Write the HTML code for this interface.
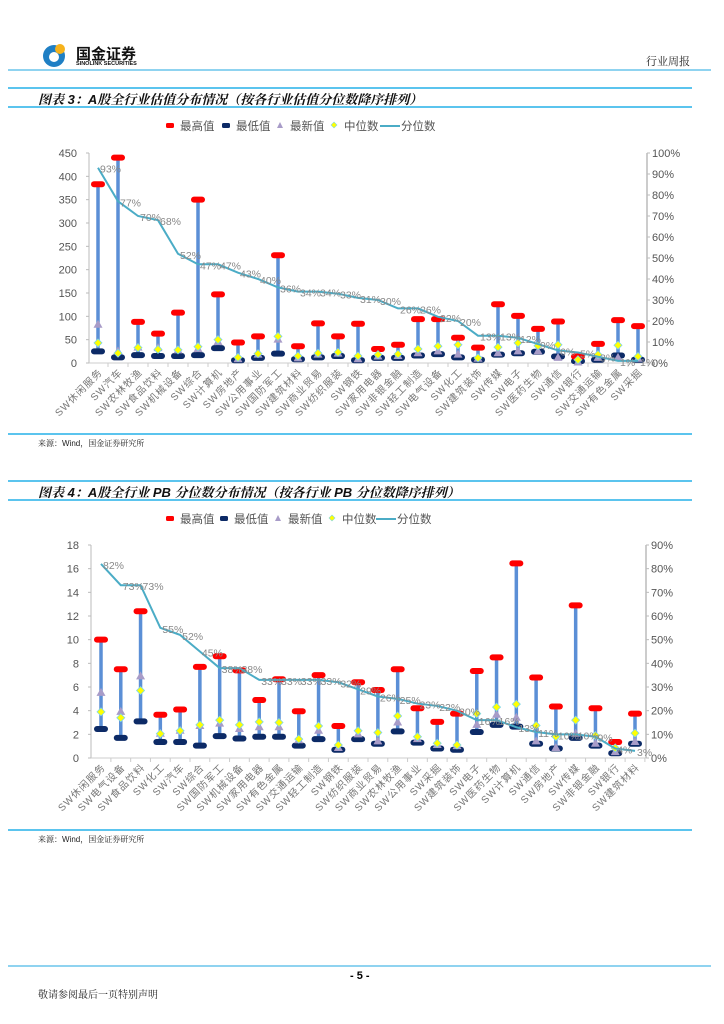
<!DOCTYPE html>
<html><head><meta charset="utf-8">
<style>
body{margin:0;background:#fff;}
#page{position:relative;width:724px;height:1024px;overflow:hidden;font-family:"Liberation Sans","Noto Sans CJK SC",sans-serif;}
.abs{position:absolute;}
.bl{position:absolute;left:8px;height:2px;background:#5bc4ee;}
.ttl{position:absolute;left:38px;font-size:13px;font-weight:bold;font-style:italic;color:#111;font-family:"Liberation Sans","Noto Serif CJK SC",serif;}
.src{position:absolute;left:38px;font-size:8px;color:#222;font-family:"Liberation Sans","Noto Serif CJK SC",serif;}
svg text{font-family:"Liberation Sans","Noto Sans CJK SC",sans-serif;}
</style></head>
<body><div id="page">
<div class="abs" style="left:42px;top:42px;width:26px;height:26px;">
<svg width="26" height="26"><circle cx="12" cy="14" r="11" fill="#1f7fc4"/><circle cx="12" cy="15" r="5" fill="#fff"/><circle cx="18" cy="7" r="5" fill="#f6b21b"/></svg></div>
<div class="abs" style="left:76px;top:43px;font-size:15px;font-weight:bold;color:#111;font-family:'Noto Sans CJK SC',sans-serif;">国金证券</div>
<div class="abs" style="left:76px;top:61px;font-size:5.5px;font-weight:bold;color:#111;">SINOLINK SECURITIES</div>
<div class="abs" style="left:646px;top:53px;font-size:11px;color:#222;font-family:'Noto Serif CJK SC',serif;">行业周报</div>
<div class="bl" style="top:69px;width:703px;background:#8fd3f0;"></div>

<div class="bl" style="top:87px;width:684px;"></div>
<div class="ttl" style="top:89px;">图表 3：A股全行业估值分布情况（按各行业估值分位数降序排列）</div>
<div class="bl" style="top:106px;width:684px;"></div>
<div class="bl" style="top:433px;width:684px;"></div>
<div class="src" style="top:438px;">来源：Wind，国金证券研究所</div>

<div class="bl" style="top:480px;width:684px;"></div>
<div class="ttl" style="top:482px;">图表 4：A股全行业 PB 分位数分布情况（按各行业 PB 分位数降序排列）</div>
<div class="bl" style="top:499px;width:684px;"></div>
<div class="bl" style="top:829px;width:684px;"></div>
<div class="src" style="top:834px;">来源：Wind，国金证券研究所</div>

<div class="bl" style="top:965px;width:703px;background:#8fd3f0;"></div>
<div class="abs" style="left:350px;top:970px;font-size:11px;font-weight:bold;">- 5 -</div>
<div class="abs" style="left:38px;top:986px;font-size:10px;color:#222;font-family:'Noto Serif CJK SC',serif;">敬请参阅最后一页特别声明</div>

<svg id="chart1" class="abs" style="left:0;top:110px;" width="724" height="325"></svg>
<svg id="chart2" class="abs" style="left:0;top:503px;" width="724" height="325"></svg>

<script>
const cats1=["休闲服务","汽车","农林牧渔","食品饮料","机械设备","综合","计算机","房地产","公用事业","国防军工","建筑材料","商业贸易","纺织服装","钢铁","家用电器","非银金融","轻工制造","电气设备","化工","建筑装饰","传媒","电子","医药生物","通信","银行","交通运输","有色金属","采掘"];
const max1=[383,440,88,63,108,350,147,44,57,231,36,85,57,84,30,39,94,94,54,33,126,101,73,89,14,41,92,79];
const min1=[25,12,17,15,15,17,32,6,11,20,8,12,15,6,11,11,16,19,12,7,18,21,24,14,4,7,16,7];
const latest1=[82,25,33,32,27,30,45,8,18,50,10,18,20,8,14,15,21,25,18,9,21,25,25,11,1,11,11,9];
const median1=[43,21,33,29,28,35,50,12,20,57,15,21,23,15,18,19,30,36,39,11,34,43,37,39,7,18,38,14];
const pct1=[93,77,70,68,52,47,47,43,40,36,34,34,33,31,30,26,26,22,20,13,13,12,9,6,5,3,1,1];
const yTicks1=[0,50,100,150,200,250,300,350,400,450];
const rTicks1=[0,10,20,30,40,50,60,70,80,90,100];

const cats2=["休闲服务","电气设备","食品饮料","化工","汽车","综合","国防军工","机械设备","家用电器","有色金属","交通运输","轻工制造","钢铁","纺织服装","商业贸易","农林牧渔","公用事业","采掘","建筑装饰","电子","医药生物","计算机","通信","房地产","传媒","非银金融","银行","建筑材料"];
const max2=[10,7.5,12.4,3.65,4.1,7.7,8.6,7.4,4.9,6.65,3.95,7.0,2.7,6.4,5.75,7.5,4.2,3.05,3.75,7.35,8.5,16.45,6.8,4.35,12.9,4.2,1.35,3.75];
const min2=[2.45,1.7,3.1,1.35,1.35,1.05,1.85,1.65,1.8,1.8,1.05,1.6,0.7,1.6,1.2,2.25,1.3,0.8,0.7,2.2,2.8,2.65,1.2,0.8,1.7,1.05,0.4,1.2];
const latest2=[5.5,3.9,6.9,2.05,2.3,2.7,2.9,2.45,2.6,2.6,1.5,2.3,0.85,2.0,1.4,3.0,1.6,1.1,1.0,2.8,3.65,3.4,1.4,0.85,2.05,1.2,0.5,1.35];
const median2=[3.9,3.4,5.7,2.05,2.3,2.8,3.2,2.8,3.05,3.0,1.6,2.7,1.1,2.3,2.15,3.55,1.8,1.25,1.1,3.75,4.3,4.55,2.75,1.8,3.2,1.9,0.85,2.1];
const pct2=[82,73,73,55,52,45,38,38,33,33,33,33,32,29,26,25,23,22,20,16,16,13,11,10,10,9,4,3];
const yTicks2=[0,2,4,6,8,10,12,14,16,18];
const rTicks2=[0,10,20,30,40,50,60,70,80,90];

const NS="http://www.w3.org/2000/svg";
function mk(p,tag,attrs,txt){const e=document.createElementNS(NS,tag);for(const k in attrs)e.setAttribute(k,attrs[k]);if(txt!==undefined)e.textContent=txt;p.appendChild(e);return e;}

function draw(svg,cfg){
  const {cats,mx,mn,lt,md,pc,yT,rT,yMax,rMax,x0,x1,y0,y1,first,last,legY,legX}=cfg;
  const ys=v=>y0-(v/yMax)*(y0-y1);
  const rs=v=>y0-(v/rMax)*(y0-y1);
  const xs=i=>first+i*(last-first)/(cats.length-1);
  const lg=mk(svg,'g',{});
  
  
  const items=[["最高值","max"],["最低值","min"],["最新值","latest"],["中位数","median"],["分位数","pct"]];
  items.forEach((it,k)=>{
    const lx=legX[k];
    const g=mk(lg,'g',{});
    
    
    if(it[1]==='max')mk(g,'rect',{x:lx-6,y:legY-3,width:8,height:5,rx:1.5,fill:'#f00'});
    if(it[1]==='min')mk(g,'rect',{x:lx-6,y:legY-3,width:8,height:5,rx:1.5,fill:'#0c2a66'});
    if(it[1]==='latest')mk(g,'path',{d:`M${lx-2} ${legY-4}L${lx+1} ${legY+2}L${lx-5} ${legY+2}Z`,fill:'#a89cc8'});
    if(it[1]==='median')mk(g,'path',{d:`M${lx-2} ${legY-4}L${lx+1} ${legY-1}L${lx-2} ${legY+2}L${lx-5} ${legY-1}Z`,fill:'#ffff00',stroke:'#7fd6e6','stroke-width':0.6});
    let tx=lx+8;
    if(it[1]==='pct'){mk(g,'line',{x1:lx-8,y1:legY,x2:lx+12,y2:legY,stroke:'#4bacc6','stroke-width':2});tx=lx+13;}
    mk(g,'text',{x:tx,y:legY+4,'font-size':11.5,fill:'#555'},it[0]);
  });
  const ax=mk(svg,'g',{});
  
  
  mk(ax,'line',{x1:x0,y1:y1,x2:x0,y2:y0,stroke:'#bbb','stroke-width':1});
  yT.forEach(t=>{mk(ax,'line',{x1:x0-3,y1:ys(t),x2:x0,y2:ys(t),stroke:'#bbb'});mk(ax,'text',{x:x0-12,y:ys(t)+4,'font-size':11,fill:'#555','text-anchor':'end'},String(t));});
  const ra=mk(svg,'g',{});
  
  
  mk(ra,'line',{x1:x1,y1:y1,x2:x1,y2:y0,stroke:'#bbb','stroke-width':1.5});
  rT.forEach(t=>{mk(ra,'line',{x1:x1,y1:rs(t),x2:x1+3,y2:rs(t),stroke:'#bbb'});mk(ra,'text',{x:x1+5,y:rs(t)+4,'font-size':11,fill:'#555'},t+'%');});
  const xa=mk(svg,'g',{});
  
  
  mk(xa,'line',{x1:x0,y1:y0,x2:x1,y2:y0,stroke:'#ccc','stroke-width':1});
  const step=(last-first)/(cats.length-1);
  cats.forEach((c,i)=>{
    const bx=xs(i);
    mk(xa,'line',{x1:bx+step/2,y1:y0,x2:bx+step/2,y2:y0+4,stroke:'#ccc'});
    const t=mk(xa,'text',{x:bx+5,y:y0+10,'font-size':10,fill:'#777','text-anchor':'end','letter-spacing':'1',transform:`rotate(-45 ${bx+5} ${y0+10})`},'SW'+c);
    
    
  });
  cats.forEach((c,i)=>{
    const bx=xs(i);
    const g=mk(svg,'g',{});
    
    
    mk(g,'line',{x1:bx,y1:ys(mx[i]),x2:bx,y2:ys(mn[i]),stroke:'#5b8fd6','stroke-width':3.5});
    mk(g,'rect',{x:bx-7,y:ys(mn[i])-3,width:14,height:6,rx:3,fill:'#0c2a66'});
    mk(g,'rect',{x:bx-7,y:ys(mx[i])-3,width:14,height:6,rx:3,fill:'#f00'});
    const ly=ys(lt[i]);
    mk(g,'path',{d:`M${bx} ${ly-5}L${bx+4.5} ${ly+3}L${bx-4.5} ${ly+3}Z`,fill:'#a89cc8'});
    const my=ys(md[i]);
    mk(g,'path',{d:`M${bx} ${my-4}L${bx+4} ${my}L${bx} ${my+4}L${bx-4} ${my}Z`,fill:'#ffff00',stroke:'#7fd6e6','stroke-width':0.8});
  });
  const pl=mk(svg,'polyline',{points:cats.map((c,i)=>xs(i)+','+rs(pc[i])).join(' '),fill:'none',stroke:'#4bacc6','stroke-width':2});
  
  
  cats.forEach((c,i)=>{
    const t=mk(svg,'text',{x:xs(i)+2,y:rs(pc[i])+5,'font-size':10.5,fill:'#888'},pc[i]+'%');
    
    
  });
}
draw(document.getElementById('chart1'),{cats:cats1,mx:max1,mn:min1,lt:latest1,md:median1,pc:pct1,yT:yTicks1,rT:rTicks1,yMax:450,rMax:100,x0:89,x1:647,y0:253,y1:43,first:98,last:638,legY:16,legX:[172,228,282,336,388]});
draw(document.getElementById('chart2'),{cats:cats2,mx:max2,mn:min2,lt:latest2,md:median2,pc:pct2,yT:yTicks2,rT:rTicks2,yMax:18,rMax:90,x0:91,x1:646,y0:255,y1:42,first:101,last:635,legY:16,legX:[172,226,280,334,384]});
</script>
</div></body></html>
